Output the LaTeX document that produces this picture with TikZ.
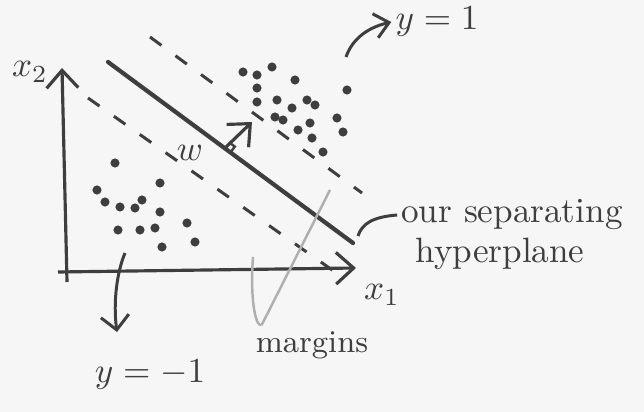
\documentclass[tikz,border=0pt]{standalone}
\usepackage{amsmath}
\usepackage{xcolor}
\usepackage{tikz}
\usetikzlibrary{arrows.meta, positioning, calc}
\definecolor{ink}{RGB}{62, 62, 62}
\definecolor{pencil}{RGB}{175, 175, 175}
\definecolor{paper}{RGB}{246, 246, 246}

\begin{document}
\begin{tikzpicture}[
  x=0.01cm, y=0.01cm,
  axis/.style={-{Straight Barb[length=5pt, width=9pt]}, ink, line width=0.9pt},
  plane/.style={ink, line width=1.2pt, line cap=round},
  margin/.style={ink, line width=0.85pt, dash pattern=on 4pt off 5pt},
  pointer/.style={ink, line width=0.85pt},
  faint/.style={pencil, line width=0.7pt},
  label/.style={text=ink, inner sep=1pt},
  dot/.style={circle, fill=ink, inner sep=0pt, minimum size=2.6pt}
]
\fill[paper] (0,0) rectangle (644,412);
\useasboundingbox (0,0) rectangle (644,412);

% axes
\coordinate (ybot) at (67,130);
\coordinate (ytop) at (62,344);
\coordinate (xleft) at (58,140);
\coordinate (xright) at (356,144);
\draw[axis] (ybot) -- (ytop);
\draw[axis] (xleft) -- (xright);
\node[label] (xtwo) at (30,340) {$x_2$};
\node[label] (xone) at (382,117) {$x_1$};

% hyperplane and margins
\coordinate (hp1) at (108,350);
\coordinate (hp2) at (353,169);
\coordinate (up1) at (150,375);
\coordinate (up2) at (362,219);
\coordinate (lo1) at (88,314);
\coordinate (lo2) at (335,140);
\draw[plane] (hp1) -- (hp2);
\draw[margin] (up1) -- (up2);
\draw[margin] (lo1) -- (lo2);

% normal vector w
\coordinate (foot) at (225,264);
\coordinate (wtip) at (252,290);
\draw[axis] (foot) -- (wtip);
\draw[ink, line width=0.7pt] (foot) ++(5.6,-4.2) -- ++(4.2,5.6) -- ++(-5.6,4.2);
\node[label] (wlab) at (190,259) {$w$};

% class y = 1
\foreach \px/\py [count=\i] in {243/340, 257/337, 272/345, 257/324, 295/332,
    257/310, 277/312, 307/312, 315/307, 292/304, 275/295, 283/292, 298/282,
    310/289, 337/294, 343/280, 312/274, 323/260, 347/322}
  \node[dot] (pos\i) at (\px,\py) {};

% class y = -1
\foreach \px/\py [count=\i] in {115/249, 97/222, 105/210, 120/205, 135/204,
    142/212, 160/229, 160/200, 118/182, 140/182, 155/184, 187/189, 195/170,
    162/165}
  \node[dot] (neg\i) at (\px,\py) {};

% labels
\node[label] (ypos) at (437,390) {$y = 1$};
\node[label] (yneg) at (150,37) {$y = -1$};
\node[label] (sep) at (512,197) {our separating};
\node[label] (hyp) at (500,158) {hyperplane};
\node[label, font=\small] (marg) at (312,67) {margins};

% pointers
\coordinate (ystart) at (346,355);
\draw[pointer, -{Straight Barb[length=4pt, width=7pt]}] (ystart) .. controls (352,372) and (366,384) .. (ypos.west);
\coordinate (nstart) at (125,159);
\coordinate (nend) at (117,80);
\draw[pointer, -{Straight Barb[length=4pt, width=8pt]}] (nstart) .. controls (117,140) and (113,110) .. (nend);
\coordinate (hstart) at (358,176);
\draw[pointer] (hstart) .. controls (362,188) and (372,195) .. (sep.west);
\coordinate (mlow) at (253,155);
\coordinate (mup) at (330,222);
\coordinate (mfoot) at ($(marg.north west)+(10,2)$);
\draw[faint] (mlow) .. controls (250,115) and (255,85) .. (mfoot);
\draw[faint] (mfoot) -- (mup);
\end{tikzpicture}
\end{document}
